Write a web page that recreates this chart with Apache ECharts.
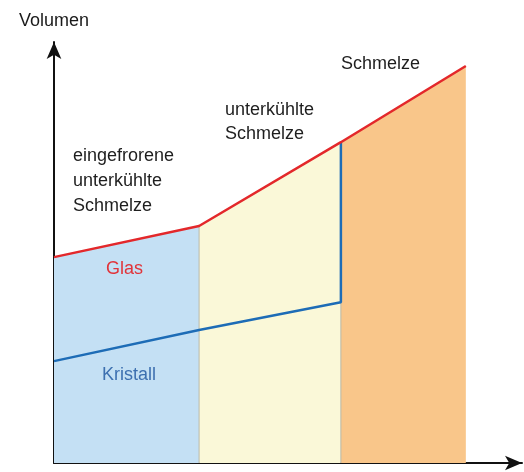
<!DOCTYPE html>
<html>
<head>
<meta charset="utf-8">
<script src="https://cdn.jsdelivr.net/npm/echarts@6/dist/echarts.min.js"></script>
<style>html,body{margin:0;padding:0;background:#fff;}#c{width:524px;height:472px;}</style>
</head>
<body>
<div id="c"></div>
<script>
// temperature-like x positions (arbitrary units) and volume values (arbitrary units)
const boundaries = [0, 31, 61.3, 88];
const glasLine = [48.9, 56.3, 76.2, 94.3];      // red line: Glas / unterkühlte Schmelze / Schmelze
const kristallLine = [24.2, 31.6, 38.2];         // blue line: Kristall (then jump at melting point)
const regionColors = ['#c4e0f4', '#faf8d8', '#f9c68a'];
const regionLabels = ['eingefrorene\nunterkühlte\nSchmelze', 'unterkühlte\nSchmelze', 'Schmelze'];
const axisName = 'Volumen';
const glasLabel = 'Glas';
const kristallLabel = 'Kristall';

const chart = echarts.init(document.getElementById('c'), null, {renderer: 'canvas'});
const font = '"Liberation Sans", Arial, Helvetica, sans-serif';

const fills = regionColors.map((col, i) => ({
  type: 'line',
  data: [[boundaries[i], glasLine[i]], [boundaries[i + 1], glasLine[i + 1]]],
  symbol: 'none',
  lineStyle: {width: 0},
  areaStyle: {color: col, opacity: 1, origin: 'start'},
  z: 1,
  silent: true
}));

const borders = [1, 2].map(i => ({
  type: 'line',
  data: [[boundaries[i], 0], [boundaries[i], glasLine[i]]],
  symbol: 'none',
  lineStyle: {width: 1, color: '#b9b9a8'},
  z: 2,
  silent: true
}));

const redSeries = {
  type: 'line',
  data: boundaries.map((x, i) => [x, glasLine[i]]),
  symbol: 'none',
  lineStyle: {width: 2.5, color: '#e3282b'},
  z: 5
};

const blueSeries = {
  type: 'line',
  data: [
    [boundaries[0], kristallLine[0]],
    [boundaries[1], kristallLine[1]],
    [boundaries[2], kristallLine[2]],
    [boundaries[2], glasLine[2]]
  ],
  symbol: 'none',
  lineStyle: {width: 2.5, color: '#1d6cb6'},
  z: 4
};

chart.setOption({
  animation: false,
  backgroundColor: '#ffffff',
  grid: {left: 54, right: 2, top: 42, bottom: 9, containLabel: false},
  xAxis: {
    type: 'value', min: 0, max: 100,
    splitLine: {show: false}, axisTick: {show: false}, axisLabel: {show: false},
    axisLine: {show: true, onZero: false, lineStyle: {color: '#111', width: 2},
      symbol: ['none', 'arrow'], symbolSize: [11, 17], symbolOffset: [0, 0]}
  },
  yAxis: {
    type: 'value', min: 0, max: 100,
    name: axisName, nameLocation: 'end', nameGap: 12,
    nameTextStyle: {color: '#1a1a1a', fontSize: 18, fontFamily: font, align: 'center'},
    splitLine: {show: false}, axisTick: {show: false}, axisLabel: {show: false},
    axisLine: {show: true, onZero: false, lineStyle: {color: '#111', width: 2},
      symbol: ['none', 'arrow'], symbolSize: [11, 17], symbolOffset: [0, 0]}
  },
  graphic: [
    {type: 'text', left: 73, top: 144, z: 10,
      style: {text: regionLabels[0], font: '18px ' + font, fill: '#1e1e1e', lineHeight: 25}},
    {type: 'text', left: 225, top: 98, z: 10,
      style: {text: regionLabels[1], font: '18px ' + font, fill: '#1e1e1e', lineHeight: 24}},
    {type: 'text', left: 341, top: 52, z: 10,
      style: {text: regionLabels[2], font: '18px ' + font, fill: '#1e1e1e', lineHeight: 24}},
    {type: 'text', left: 106, top: 257, z: 10,
      style: {text: glasLabel, font: '18px ' + font, fill: '#e1343a', lineHeight: 24}},
    {type: 'text', left: 102, top: 363, z: 10,
      style: {text: kristallLabel, font: '18px ' + font, fill: '#3d70b0', lineHeight: 24}}
  ],
  series: [...fills, ...borders, blueSeries, redSeries]
});
</script>
</body>
</html>
